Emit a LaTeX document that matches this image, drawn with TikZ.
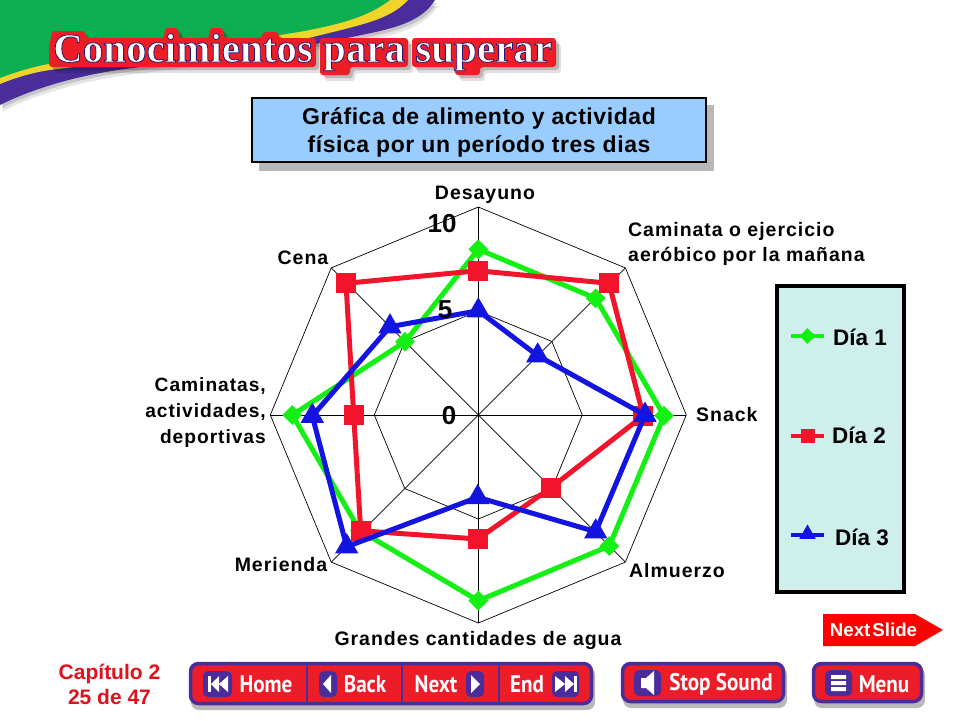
\documentclass[tikz,border=0pt]{standalone}
\usepackage{fontspec}
\usetikzlibrary{shapes.geometric,calc}
\setmainfont{Liberation Sans}
\newfontfamily\labfont{Liberation Sans}[LetterSpace=5]
\newfontfamily\titfont{Liberation Sans}[LetterSpace=2.5]
\newfontfamily\banW{Liberation Serif}[UprightFont=* Bold,FakeBold=2]
\newfontfamily\btnfont{PT Sans}
\newcommand{\btxt}[1]{\scalebox{.88}[1]{#1}}
\definecolor{purp}{HTML}{4A2C9A}
\definecolor{btnred}{HTML}{EC1C28}
\definecolor{bgreen}{HTML}{0BAE50}
\definecolor{byel}{HTML}{EFD42A}
\definecolor{cgreen}{HTML}{14F014}
\definecolor{cred}{HTML}{F2142A}
\definecolor{cblue}{HTML}{1414E0}
\definecolor{bluebox}{HTML}{99CCFF}
\definecolor{legbox}{HTML}{CFEFEC}
\definecolor{chapred}{HTML}{E0101C}
\definecolor{banred}{HTML}{EE1C25}
\tikzset{
  gridline/.style={draw=black,line width=0.7pt},
  serieslineg/.style={draw=cgreen,line width=5pt,line join=miter},
  serieslinr/.style={draw=cred,line width=5pt,line join=miter},
  serieslinb/.style={draw=cblue,line width=5pt,line join=miter},
  mkg/.style={diamond,fill=cgreen,inner sep=0pt,minimum size=20pt},
  mkr/.style={rectangle,fill=cred,inner sep=0pt,minimum size=20pt},
  mkb/.style={regular polygon,regular polygon sides=3,fill=cblue,inner sep=0pt,minimum size=27pt},
  lab/.style={font=\labfont\fontsize{19.5}{25}\selectfont\bfseries,text=black,inner sep=0pt},
  axnum/.style={font=\fontsize{26}{28}\selectfont\bfseries,inner sep=0pt},
  legtxt/.style={font=\fontsize{22.5}{24}\selectfont\bfseries,inner sep=0pt},
  btnouter/.style={draw=purp,line width=3.5pt,fill=btnred,rounded corners=8pt},
  btnshadow/.style={fill=black,opacity=.28,rounded corners=8pt},
  btnicon/.style={fill=purp,rounded corners=5pt},
  btntxt/.style={font=\btnfont\fontsize{24}{26}\selectfont\bfseries,text=white,inner sep=0pt},
  glyph/.style={fill=white}
}
\begin{document}
\begin{tikzpicture}[x=1pt,y=-1pt]
\useasboundingbox (0,0) rectangle (960,720);
\fill[white] (0,0) rectangle (960,720);
% banner
\def\lowedge{(435,0) .. controls (420,25) and (385,30) .. (347,38) .. controls (280,52) and (190,60) .. (133,68) .. controls (90,73) and (40,85) .. (0,105)}
\fill[black,opacity=.10,shift={(3,6)}] (0,0) -- \lowedge -- cycle;
\fill[black,opacity=.14,shift={(2,3)}] (0,0) -- \lowedge -- cycle;
\fill[purp] (0,0) -- \lowedge -- cycle;
\fill[byel] (0,0) -- (408,0) .. controls (390,20) and (360,25) .. (313,37) .. controls (240,53) and (150,57) .. (50,70) .. controls (30,73) and (15,78) .. (0,84) -- cycle;
\fill[bgreen] (0,0) -- (390,0) .. controls (370,15) and (345,25) .. (280,35) .. controls (200,48) and (120,50) .. (43,65) .. controls (30,68) and (15,72) .. (0,78) -- cycle;
\def\bansil{(49,48) -- (52,31) -- (85,31) -- (86,38) -- (164,38) -- (165,28) -- (178,28) -- (179,38) -- (209,38) -- (210,28) -- (223,28) -- (224,38) -- (262,38) -- (263,32) -- (278,32) -- (279,38) -- (316,38) -- (316,67) -- (49,67) -- cycle
 (320,38) -- (408,38) -- (408,67) -- (350,67) -- (350,75) -- (320,75) -- cycle
 (412,38) -- (556,38) -- (556,67) -- (480,67) -- (480,75) -- (455,75) -- (455,67) -- (412,67) -- cycle}
\fill[black,opacity=.12,rounded corners=3pt,shift={(5,6)}] \bansil;
\fill[black,opacity=.18,rounded corners=3pt,shift={(3,3)}] \bansil;
\fill[banred,rounded corners=3pt] \bansil;
\node[anchor=base west,inner sep=0pt] (banner) at (53,62) {\color{white}\special{pdf:code 0.16 0.09 0.44 RG}\banW\fontsize{41}{44}\selectfont Conocimientos para superar};
% title
\fill[black!28] (259,105) rectangle (714,171);
\node[draw=black,line width=2.4pt,fill=bluebox,minimum width=454pt,minimum height=64pt,inner sep=0pt,align=center,
  font=\titfont\fontsize{23}{28}\selectfont\bfseries] (title) at (479,130) {\rule{0pt}{22pt}Gráfica de alimento y actividad\\física por un período tres dias};
% grid
\coordinate (c) at (478.3,415);
\foreach \a in {0,45,...,315}{
  \coordinate (o\a) at ($(c)+(\a:208)$);
  \coordinate (i\a) at ($(c)+(\a:104)$);
  \draw[gridline] (c) -- (o\a);
}
\draw[gridline] (o0)--(o45)--(o90)--(o135)--(o180)--(o225)--(o270)--(o315)--cycle;
\draw[gridline] (i0)--(i45)--(i90)--(i135)--(i180)--(i225)--(i270)--(i315)--cycle;
% series 1
\coordinate (g1) at (478.3,249.3);\coordinate (g2) at (595.7,298.3);\coordinate (g3) at (664,415.7);\coordinate (g4) at (609.3,546);
\coordinate (g5) at (478.3,600.7);\coordinate (g6) at (360,530.7);\coordinate (g7) at (292.3,415);\coordinate (g8) at (405,341.7);
\draw[serieslineg] (g1)--(g2)--(g3)--(g4)--(g5)--(g6)--(g7)--(g8)--cycle;
\foreach \p in {g1,g2,g3,g4,g5,g6,g7,g8} \node[mkg] (m\p) at (\p) {};
% series 2
\coordinate (r1) at (477.7,270.7);\coordinate (r2) at (609,283.3);\coordinate (r3) at (643.3,415.7);\coordinate (r4) at (551,487.7);
\coordinate (r5) at (477.7,539);\coordinate (r6) at (360.7,530.7);\coordinate (r7) at (353.7,415);\coordinate (r8) at (346,283.3);
\draw[serieslinr] (r1)--(r2)--(r3)--(r4)--(r5)--(r6)--(r7)--(r8)--cycle;
\foreach \p in {r1,r2,r3,r4,r5,r6,r7,r8} \node[mkr] (m\p) at (\p) {};
% series 3
\coordinate (b1) at (478.3,310.7);\coordinate (b2) at (537.7,355.7);\coordinate (b3) at (645,415);\coordinate (b4) at (595.7,531.7);
\coordinate (b5) at (477.7,497.3);\coordinate (b6) at (346.7,546.7);\coordinate (b7) at (312.3,416);\coordinate (b8) at (390,326.7);
\draw[serieslinb] (b1)--(b2)--(b3)--(b4)--(b5)--(b6)--(b7)--(b8)--cycle;
\foreach \p in {b1,b2,b3,b4,b5,b6,b7,b8} \node[mkb] (m\p) at (\p) {};
% axis numbers
\node[axnum] (n10) at (442,224) {10};
\node[axnum] (n5) at (445,310) {5};
\node[axnum] (n0) at (449,416) {0};
% labels
\node[lab] (l1) at (485,195) {Desayuno};
\node[lab,align=left,anchor=west] (l2) at (628,243.5) {Caminata o ejercicio\\aeróbico por la mañana};
\node[lab,anchor=west] (l3) at (696,415) {Snack};
\node[lab,anchor=west] (l4) at (629,571) {Almuerzo};
\node[lab] (l5) at (478,640) {Grandes cantidades de agua};
\node[lab] (l6) at (281,565) {Merienda};
\node[lab,align=right,anchor=east,font=\labfont\fontsize{19.2}{26}\selectfont\bfseries] (l7) at (266,413) {Caminatas,\\actividades,\\deportivas};
\node[lab] (l8) at (303,258) {Cena};
% legend
\node[draw=black,line width=4pt,fill=legbox,minimum width=127pt,minimum height=306pt,inner sep=0pt] (legend) at (840,438.5) {};
\coordinate (la1) at (791,336);\coordinate (lb1) at (824,336);
\coordinate (la2) at (791,436);\coordinate (lb2) at (824,436);
\coordinate (la3) at (791,535);\coordinate (lb3) at (824,535);
\draw[draw=cgreen,line width=4pt] (la1)--(lb1);
\draw[draw=cred,line width=4pt] (la2)--(lb2);
\draw[draw=cblue,line width=4pt] (la3)--(lb3);
\node[mkg,minimum size=16pt] (lm1) at (807.5,336) {};
\node[mkr,minimum size=14pt] (lm2) at (807.5,436) {};
\node[mkb,minimum size=19pt] (lm3) at (807.5,534) {};
\node[legtxt,anchor=west] (lt1) at (833,337) {Día 1};
\node[legtxt,anchor=west] (lt2) at (832,435) {Día 2};
\node[legtxt,anchor=west] (lt3) at (835,537) {Día 3};
% next slide
\draw[fill=red,draw=none] (823,614) -- (915,614) -- (943,630) -- (915,646) -- (823,646) -- cycle;
\node[font=\fontsize{18.7}{20}\selectfont\bfseries,text=white,inner sep=0pt] (nextslide) at (873.5,629.5) {Next\hspace{2pt}Slide};
% chapter
\node[font=\fontsize{21}{25}\selectfont\bfseries,text=chapred,align=center,inner sep=0pt] (chap) at (109.5,684.5) {Capítulo 2\\25 de 47};
% nav bar
\fill[btnshadow] (191,667) rectangle (595,710);
\draw[btnouter] (190.5,663.5) rectangle (591.5,703.5);
\draw[purp,line width=1.2pt] (307,663.5)--(307,703.5) (402,663.5)--(402,703.5) (499,663.5)--(499,703.5);
\fill[btnicon] (203,671) rectangle (232,697);
\fill[btnicon] (319,671) rectangle (337,697);
\fill[btnicon] (466,671) rectangle (484,697);
\fill[btnicon] (552,671) rectangle (579,697);
\fill[glyph] (208,676) rectangle (211,692);
\fill[glyph] (219,676)--(219,692)--(211,684)--cycle (228,676)--(228,692)--(219,684)--cycle;
\fill[glyph] (331,675)--(331,693)--(323,684)--cycle;
\fill[glyph] (471,675)--(471,693)--(480,684)--cycle;
\fill[glyph] (574,676) rectangle (577,692);
\fill[glyph] (555,676)--(555,692)--(565,684)--cycle (565,676)--(565,692)--(574,684)--cycle;
\node[btntxt] (bhome) at (266,684) {\btxt{Home}};
\node[btntxt] (bback) at (365,684) {\btxt{Back}};
\node[btntxt] (bnext) at (436,684) {\btxt{Next}};
\node[btntxt] (bend) at (527,684) {\btxt{End}};
% stop sound
\fill[btnshadow] (623,667) rectangle (787,708);
\draw[btnouter] (622.5,663.5) rectangle (783.5,701.5);
\fill[btnicon] (634,670) rectangle (661,696);
\fill[glyph] (641,678)--(646,678)--(654,671)--(654,695)--(646,688)--(641,688)--cycle;
\node[btntxt] (bstop) at (721,684) {\btxt{Stop Sound}};
% menu
\fill[btnshadow] (814,667) rectangle (925,708);
\draw[btnouter] (813.5,663.5) rectangle (921.5,701.5);
\fill[btnicon] (825,670) rectangle (852,696);
\fill[glyph] (831,675) rectangle (846,679) (831,681) rectangle (846,685) (831,687) rectangle (846,691);
\node[btntxt] (bmenu) at (884,684) {\btxt{Menu}};
\end{tikzpicture}
\end{document}
